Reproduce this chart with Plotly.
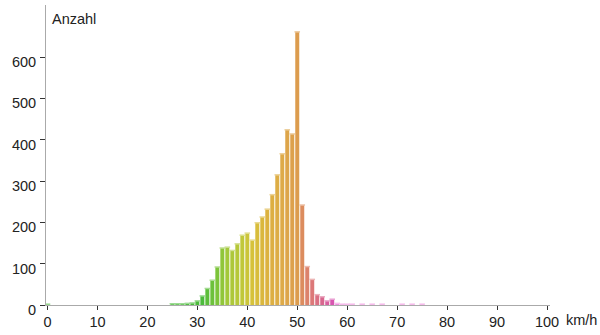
import plotly.graph_objects as go

# ---- data ----
speeds = [0, 25, 26, 27, 28, 29, 30, 31, 32, 33, 34, 35, 36, 37, 38, 39, 40,
          41, 42, 43, 44, 45, 46, 47, 48, 49, 50, 51, 52, 53, 54, 55, 56, 57,
          58, 59, 60, 61, 63, 65, 67, 71, 73, 75]
counts = [2, 3, 3, 3, 4, 5, 10, 22, 40, 60, 92, 138, 140, 132, 148, 169, 174,
          157, 199, 213, 232, 267, 315, 366, 424, 414, 661, 242, 93, 62, 25, 20, 10, 14,
          4, 2, 2, 2, 2, 2, 2, 2, 2, 2]
x_ticks = [0, 10, 20, 30, 40, 50, 60, 70, 80, 90, 100]
y_ticks = [0, 100, 200, 300, 400, 500, 600]

# ---- style: colour gradient by speed ----
stops = [(0, "#4cbb3c"), (31, "#4cbb3c"), (34, "#7cc43a"), (36, "#a3c83a"),
         (39, "#c0c83a"), (41, "#d6c23a"), (44, "#dcb23f"), (47, "#deaa48"),
         (50, "#dc9c4e"), (51, "#dc8c5e"), (53, "#dc7878"), (55, "#d8668e"),
         (57, "#d855b0"), (58, "#ee88dd"), (100, "#ee88dd")]


def hex2rgb(h):
    h = h.lstrip("#")
    return [int(h[i:i + 2], 16) for i in (0, 2, 4)]


def colour(v, light=0.0):
    for (a, ca), (b, cb) in zip(stops[:-1], stops[1:]):
        if a <= v <= b:
            t = 0 if b == a else (v - a) / (b - a)
            ra, rb = hex2rgb(ca), hex2rgb(cb)
            c = [ra[i] + (rb[i] - ra[i]) * t for i in range(3)]
            c = [x + (255 - x) * light for x in c]
            return "rgb(%d,%d,%d)" % tuple(round(x) for x in c)
    return stops[-1][1]


bar_colours = [colour(s) for s in speeds]
cap_colours = [colour(s, 0.45) for s in speeds]

fig = go.Figure()
fig.add_trace(go.Bar(x=speeds, y=counts, marker=dict(color=bar_colours, line=dict(width=0)),
                     width=0.8, hoverinfo="x+y"))
fig.add_trace(go.Scatter(x=speeds, y=counts, mode="markers", hoverinfo="skip",
                         marker=dict(symbol="line-ew", size=4,
                                     line=dict(width=1.5, color=cap_colours))))

font = dict(family="Liberation Sans, Arial, sans-serif", size=14.5, color="#222")

fig.update_layout(
    width=600, height=335,
    margin=dict(l=45.5, r=50, t=5, b=30),
    paper_bgcolor="white", plot_bgcolor="white",
    showlegend=False,
    font=font,
    xaxis=dict(range=[-0.3, 100.6], tickvals=x_ticks, ticks="outside", ticklen=4,
               tickcolor="#333", tickwidth=1, showline=True, linecolor="#aaaaaa",
               linewidth=1, showgrid=False, zeroline=False, tickfont=font),
    yaxis=dict(range=[0, 726], tickvals=y_ticks, ticks="outside", ticklen=5,
               tickcolor="#333", tickwidth=1, showline=True, linecolor="#aaaaaa",
               linewidth=1, showgrid=False, zeroline=False, tickfont=font,
               ticklabelshift=5, ticklabelstandoff=1),
    annotations=[
        dict(text="Anzahl", xref="paper", yref="paper", x=0, y=1, xanchor="left",
             yanchor="top", xshift=4, yshift=-4, showarrow=False, font=font),
        dict(text="km/h", xref="paper", yref="paper", x=1, y=0, xanchor="left",
             yanchor="top", xshift=14, yshift=-5, showarrow=False, font=font),
    ],
)

fig.write_html("out.html")
